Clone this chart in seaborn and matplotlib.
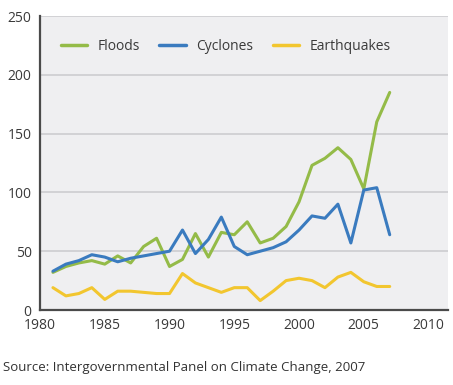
import numpy as np
import pandas as pd
import matplotlib.pyplot as plt
import seaborn as sns

# Data
years = list(range(1981, 2008))
floods = [32, 37, 40, 42, 39, 46, 40, 54, 61, 37, 43, 65, 45, 66, 64, 75, 57,
          61, 71, 92, 123, 129, 138, 128, 103, 160, 185]
cyclones = [33, 39, 42, 47, 45, 41, 44, 46, 48, 50, 68, 48, 60, 79, 54, 47, 50,
            53, 58, 68, 80, 78, 90, 57, 102, 104, 64]
earthquakes = [19, 12, 14, 19, 9, 16, 16, 15, 14, 14, 31, 23, 19, 15, 19, 19, 8,
               16, 25, 27, 25, 19, 28, 32, 24, 20, 20]
series = ["Floods", "Cyclones", "Earthquakes"]
colors = ["#94bb48", "#3a7bbf", "#f2c62f"]
yticks = [0, 50, 100, 150, 200, 250]
xticks = [1980, 1985, 1990, 1995, 2000, 2005, 2010]

df = pd.DataFrame({
    "Year": years * 3,
    "Value": floods + cyclones + earthquakes,
    "Type": ["Floods"] * len(years) + ["Cyclones"] * len(years) + ["Earthquakes"] * len(years),
})

sns.set_style("white")
plt.rcParams['font.family'] = ['Open Sans', 'DejaVu Sans']

fig = plt.figure(figsize=(4.53, 3.85), dpi=100)
ax = fig.add_axes([40 / 453, 1 - 310 / 385, 408 / 453, 294 / 385])
ax.set_facecolor("#efeff1")

sns.lineplot(data=df, x="Year", y="Value", hue="Type", hue_order=series,
             palette=colors, linewidth=2.2, ax=ax, zorder=3)

ax.set_xlim(1980, 2011.5)
ax.set_ylim(0, 250)
ax.set_xticks(xticks)
ax.set_yticks(yticks)
ax.yaxis.grid(True, color="#cfcfd3", linewidth=1.3)
ax.set_axisbelow(True)
ax.tick_params(length=0, labelsize=10, labelcolor="#3a3a3a", pad=6)
ax.set_xlabel("")
ax.set_ylabel("")
for s in ["top", "right"]:
    ax.spines[s].set_visible(False)
for s in ["left", "bottom"]:
    ax.spines[s].set_color("#4a4a4a")
    ax.spines[s].set_linewidth(1.6)

leg = ax.legend(loc="upper left", bbox_to_anchor=(0.02, 0.965), ncol=3, frameon=False,
                fontsize=10, handlelength=1.9, handletextpad=0.75, columnspacing=1.4)
for t in leg.get_texts():
    t.set_color("#3a3a3a")
for h in leg.get_lines():
    h.set_linewidth(2.5)

fig.text(3 / 453, 1 - 367 / 385, "Source: Intergovernmental Panel on Climate Change, 2007",
         fontsize=9.5, color="#333333", va="center", ha="left")

fig.savefig("out.png", dpi=100)
